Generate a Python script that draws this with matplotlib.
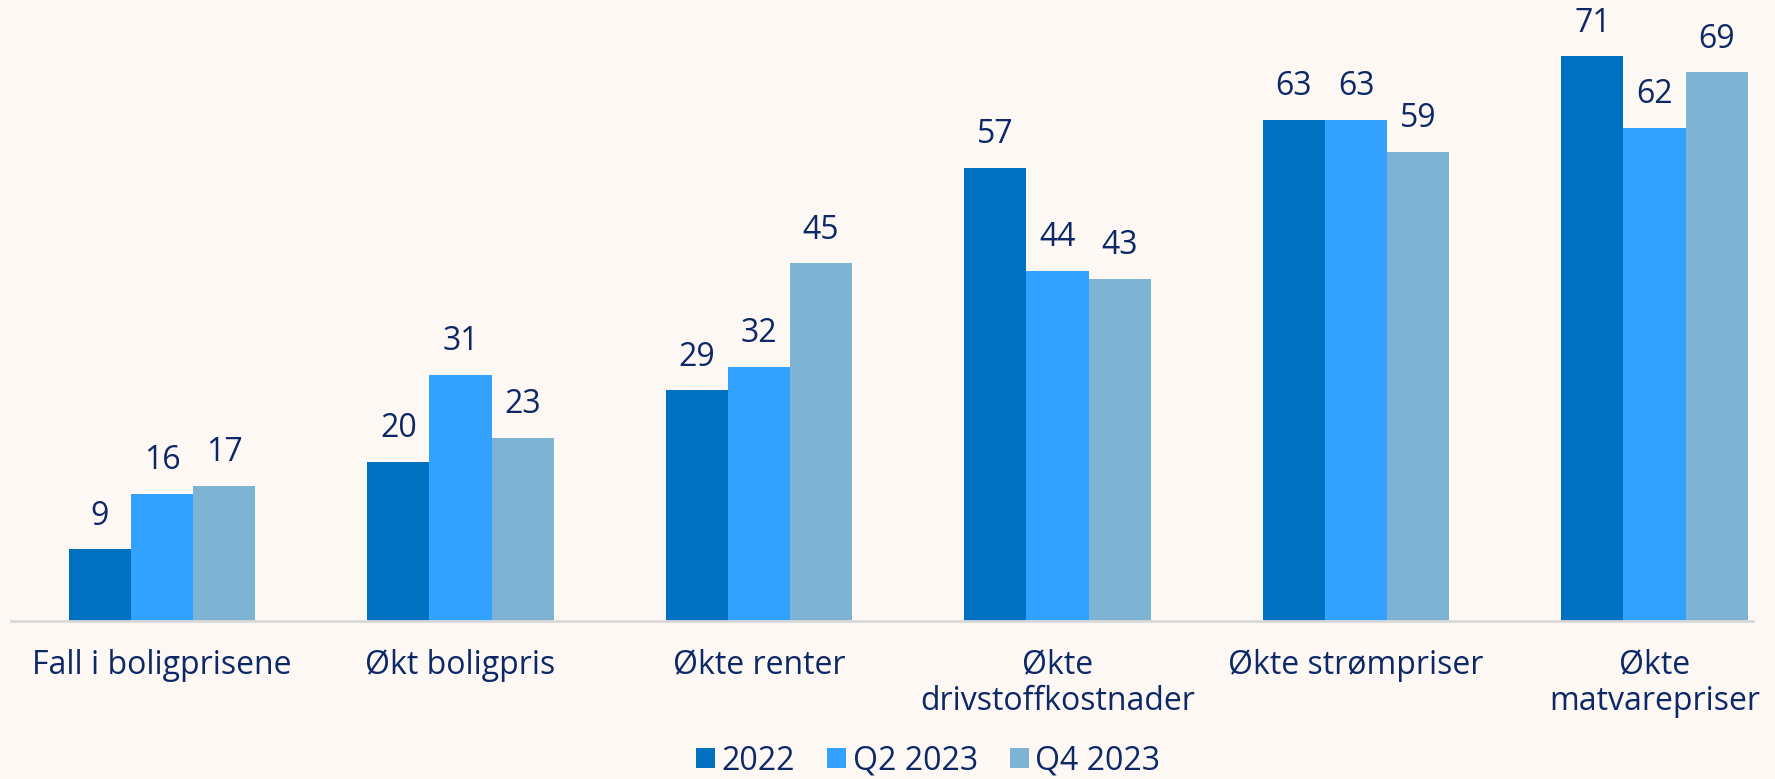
import matplotlib.pyplot as plt
import numpy as np

plt.rcParams.update({'font.family': ['Open Sans', 'DejaVu Sans'], 'font.size': 23})

categories = ["Fall i boligprisene", "Økt boligpris", "Økte renter",
              "Økte\ndrivstoffkostnader", "Økte strømpriser", "Økte\nmatvarepriser"]
series = ["2022", "Q2 2023", "Q4 2023"]
v2022 = [9, 20, 29, 57, 63, 71]
vq2 = [16, 31, 32, 44, 63, 62]
vq4 = [17, 23, 45, 43, 59, 69]
colors = ["#0070c0", "#33a1ff", "#7fb3d3"]

bg = "#fdf8f4"
text_col = "#0c2866"

fig = plt.figure(figsize=(17.75, 7.79), dpi=100, facecolor=bg)
ax = fig.add_axes([11 / 1775, 1 - 621 / 779, (1753 - 11) / 1775, 621 / 779])
ax.set_facecolor(bg)

x = np.arange(len(categories))
w = 0.208
for i, (name, vals) in enumerate(zip(series, [v2022, vq2, vq4])):
    bars = ax.bar(x + (i - 1) * w, vals, w, color=colors[i], label=name)
    ax.bar_label(bars, padding=12, color=text_col, fontsize=23)

ax.set_xlim(-0.506, 5.33)
ax.set_ylim(0, 78.1)
ax.set_yticks([])
ax.set_xticks(x)
ax.set_xticklabels(categories, color=text_col, fontsize=23, linespacing=1.12)
ax.tick_params(axis='x', length=0, pad=20)
for s in ["top", "right", "left"]:
    ax.spines[s].set_visible(False)
ax.spines["bottom"].set_color("#d9d9d9")
ax.spines["bottom"].set_linewidth(2)

leg = fig.legend(loc="lower center", bbox_to_anchor=(0.523, -0.035), ncol=3, frameon=False,
                 handlelength=0.6, handleheight=0.6, handletextpad=0.2, columnspacing=1.0,
                 fontsize=23)
for t in leg.get_texts():
    t.set_color(text_col)

fig.savefig("out.png", facecolor=bg)
